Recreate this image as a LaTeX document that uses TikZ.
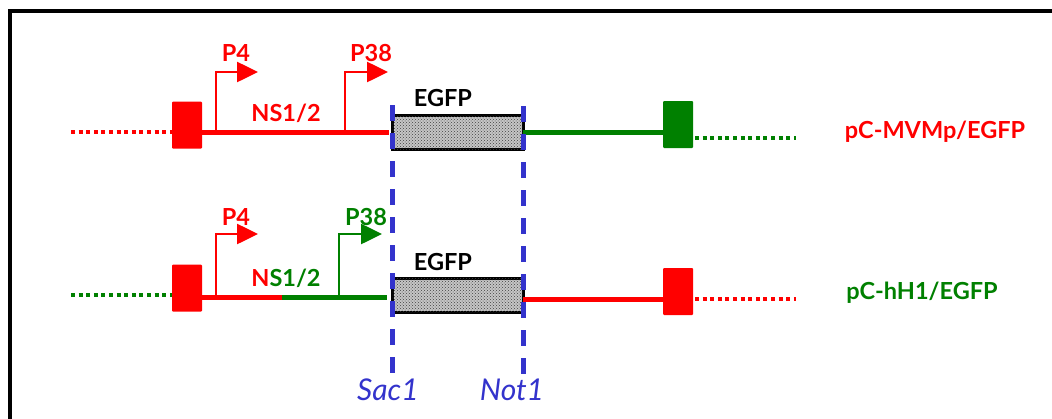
\documentclass[tikz,border=0pt]{standalone}
\usepackage{fontspec}
\setmainfont{Lato}
\usetikzlibrary{arrows.meta,patterns}
\definecolor{cred}{HTML}{FF0000}
\definecolor{cgreen}{HTML}{008000}
\definecolor{cblue}{HTML}{3333CC}
\tikzset{
  endbox/.style={draw=none,minimum width=30pt,minimum height=47pt,inner sep=0pt,rounded corners=1pt},
  dotline/.style={line width=4.5pt,dash pattern=on 4pt off 3.6pt},
  solidline/.style={line width=5pt},
  promoter/.style={line width=2.6pt,-{Triangle[length=21pt,width=20pt]}},
  lbl/.style={font=\fontsize{23.5}{25}\selectfont\bfseries,inner sep=0pt},
  egfpbox/.style={draw=black,line width=3pt,fill=gray!45,postaction={pattern=crosshatch dots,pattern color=black!75},minimum width=131pt,minimum height=34pt,inner sep=0pt},
  sitecut/.style={cblue,line width=5pt,dash pattern=on 16pt off 12pt},
  sitelbl/.style={cblue,font=\fontsize{30}{32}\selectfont\itshape,inner sep=0pt}
}
\begin{document}
\begin{tikzpicture}[x=1pt,y=-1pt]
\useasboundingbox (0,0) rectangle (1052,418);
\begin{scope}
\clip (0,0) rectangle (1052,418);
\draw[line width=4pt] (10,11) rectangle (1080,450);
\end{scope}
% ---- top row ----
\coordinate (t0) at (71,132);
\node[endbox,fill=cred] (tbL) at (187,125) {};
\coordinate (tL1) at (202,132);
\coordinate (tP4) at (216,132);
\coordinate (tP38) at (345,132);
\coordinate (tE) at (389,132);
\node[egfpbox] (tEG) at (457.5,132) {};
\coordinate (tR0) at (523,132);
\node[endbox,fill=cgreen] (tbR) at (678,124.5) {};
\coordinate (tR1) at (663,132);
\coordinate (tD0) at (695,138);
\coordinate (tD1) at (796,138);
\draw[dotline,cred] (t0) -- (tbL.west |- t0);
\draw[solidline,cred] (tL1) -- (tE);
\draw[promoter,cred] (tP4) |- (258,72);
\draw[promoter,cred] (tP38) |- (388,72);
\draw[solidline,cgreen] (tR0) -- (tR1);
\draw[dotline,cgreen] (tD0) -- (tD1);
\node[lbl,cred] (tlP4) at (236,53) {P4};
\node[lbl,cred] (tlP38) at (371,53) {P38};
\node[lbl,cred] (tlNS) at (286,113) {NS1/2};
\node[lbl] (tlEG) at (443,98) {EGFP};
\node[lbl,cred] (tname) at (935,132) {pC-MVMp/EGFP};
% ---- bottom row ----
\coordinate (b0) at (71,295);
\node[endbox,fill=cred] (bbL) at (187,288) {};
\coordinate (bL1) at (202,297);
\coordinate (bP4) at (216,297);
\coordinate (bmid) at (282,297);
\coordinate (bP38) at (339,297);
\coordinate (bE) at (387,297);
\node[egfpbox] (bEG) at (457.5,295.5) {};
\coordinate (bR0) at (523,299);
\node[endbox,fill=cred] (bbR) at (678,291.5) {};
\coordinate (bR1) at (663,299);
\coordinate (bD0) at (695,299);
\coordinate (bD1) at (796,299);
\draw[dotline,cgreen] (b0) -- (bbL.west |- b0);
\draw[solidline,cred] (bL1) -- (bmid);
\draw[solidline,cgreen] (bmid) -- (bE);
\draw[promoter,cred] (bP4) |- (258,234);
\draw[promoter,cgreen] (bP38) |- (382,234);
\draw[solidline,cred] (bR0) -- (bR1);
\draw[dotline,cred] (bD0) -- (bD1);
\node[lbl,cred] (blP4) at (236,217) {P4};
\node[lbl,cgreen] (blP38) at (366,217) {P38};
\node[lbl] (blNS) at (286,278) {\textcolor{cred}{N}\textcolor{cgreen}{S1/2}};
\node[lbl] (blEG) at (443,262) {EGFP};
\node[lbl,cgreen] (bname) at (922,293) {pC-hH1/EGFP};
% ---- restriction sites ----
\coordinate (s1a) at (392,105);
\coordinate (s1b) at (392,373);
\coordinate (s2a) at (523,106);
\coordinate (s2b) at (523,374);
\draw[sitecut] (s1a) -- (s1b);
\draw[sitecut] (s2a) -- (s2b);
\node[sitelbl] (sac) at (388,390) {Sac1};
\node[sitelbl] (not) at (512,390) {Not1};
\end{tikzpicture}
\end{document}
